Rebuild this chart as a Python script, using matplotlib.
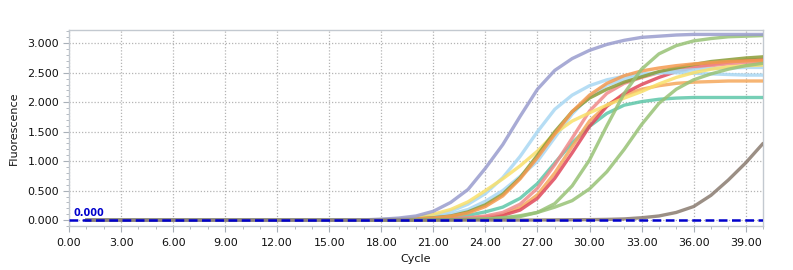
import numpy as np
import matplotlib
matplotlib.use("Agg")
import matplotlib.pyplot as plt
from matplotlib.ticker import MultipleLocator, FormatStrFormatter

cycles = list(range(1, 41))
lead_zeros = [0.0] * 14  # cycles 1..14 (flat baseline)

# values for cycles 15..40
purple = [0, 0.002, 0.005, 0.015, 0.035, 0.07, 0.15, 0.30, 0.52, 0.88, 1.28, 1.76, 2.22, 2.54, 2.74, 2.88, 2.98, 3.05, 3.10, 3.12, 3.14, 3.15, 3.15, 3.15, 3.15, 3.15]
yellow = [0, 0, 0.005, 0.01, 0.02, 0.05, 0.10, 0.18, 0.31, 0.50, 0.70, 0.92, 1.17, 1.47, 1.68, 1.82, 1.95, 2.07, 2.18, 2.31, 2.42, 2.50, 2.56, 2.60, 2.62, 2.63]
lightblue_a = [0, 0, 0.005, 0.01, 0.02, 0.04, 0.08, 0.15, 0.27, 0.45, 0.72, 1.08, 1.50, 1.88, 2.12, 2.28, 2.38, 2.44, 2.48, 2.50, 2.50, 2.49, 2.48, 2.47, 2.46, 2.46]
lightblue_b = [0, 0, 0.003, 0.008, 0.015, 0.03, 0.055, 0.10, 0.18, 0.32, 0.50, 0.74, 1.00, 1.40, 1.80, 2.10, 2.29, 2.39, 2.45, 2.50, 2.53, 2.55, 2.57, 2.58, 2.59, 2.59]
olive = [0, 0, 0.002, 0.005, 0.01, 0.02, 0.04, 0.07, 0.14, 0.26, 0.44, 0.72, 1.10, 1.50, 1.84, 2.07, 2.22, 2.34, 2.43, 2.52, 2.58, 2.64, 2.69, 2.72, 2.75, 2.77]
orange_b = [0, 0, 0.002, 0.005, 0.01, 0.02, 0.035, 0.065, 0.12, 0.23, 0.41, 0.70, 1.06, 1.46, 1.84, 2.12, 2.32, 2.45, 2.53, 2.58, 2.62, 2.65, 2.67, 2.69, 2.70, 2.71]
teal = [0, 0, 0, 0.003, 0.007, 0.012, 0.025, 0.045, 0.08, 0.14, 0.22, 0.37, 0.62, 0.97, 1.31, 1.59, 1.81, 1.95, 2.01, 2.05, 2.07, 2.08, 2.08, 2.08, 2.08, 2.08]
pink = [0, 0, 0, 0, 0.003, 0.006, 0.012, 0.022, 0.04, 0.07, 0.13, 0.27, 0.54, 0.94, 1.39, 1.85, 2.15, 2.32, 2.42, 2.50, 2.55, 2.59, 2.62, 2.65, 2.67, 2.68]
red = [0, 0, 0, 0, 0.002, 0.004, 0.008, 0.014, 0.025, 0.045, 0.08, 0.17, 0.37, 0.71, 1.14, 1.59, 1.93, 2.15, 2.30, 2.42, 2.52, 2.59, 2.64, 2.68, 2.71, 2.72]
orange_a = [0, 0, 0, 0, 0.003, 0.005, 0.01, 0.017, 0.03, 0.055, 0.10, 0.21, 0.43, 0.80, 1.25, 1.68, 1.95, 2.12, 2.22, 2.28, 2.32, 2.34, 2.35, 2.36, 2.36, 2.36]
green_a = [0, 0, 0, 0, 0, 0.002, 0.004, 0.007, 0.012, 0.02, 0.035, 0.06, 0.13, 0.28, 0.58, 1.02, 1.60, 2.15, 2.56, 2.82, 2.96, 3.04, 3.08, 3.11, 3.12, 3.13]
green_b = [0, 0, 0, 0, 0, 0.002, 0.004, 0.007, 0.012, 0.02, 0.04, 0.075, 0.13, 0.22, 0.33, 0.53, 0.82, 1.20, 1.62, 1.98, 2.22, 2.38, 2.48, 2.56, 2.62, 2.66]
brown = [0, 0, 0, 0, 0, 0, 0, 0, 0, 0, 0, 0, 0.002, 0.004, 0.006, 0.008, 0.012, 0.02, 0.04, 0.07, 0.13, 0.23, 0.42, 0.68, 0.97, 1.30]

threshold = 0.0
x_ticks = [0, 3, 6, 9, 12, 15, 18, 21, 24, 27, 30, 33, 36, 39]
y_ticks = [0.0, 0.5, 1.0, 1.5, 2.0, 2.5, 3.0]

series = [
    (teal, "#5ec7a9"),
    (orange_a, "#f5a85c"),
    (red, "#e0485a"),
    (pink, "#f08a8a"),
    (lightblue_a, "#a9d8f3"),
    (lightblue_b, "#a9d8f3"),
    (yellow, "#f9e06a"),
    (olive, "#8a9c36"),
    (orange_b, "#f59a50"),
    (green_b, "#98c276"),
    (green_a, "#98c276"),
    (purple, "#999cce"),
    (brown, "#8a7b70"),
]

fig = plt.figure(figsize=(7.93, 2.70), dpi=100)
ax = fig.add_axes([69 / 793, 44 / 270, (763 - 69) / 793, (226 - 30) / 270])

for vals, col in series:
    ax.plot(cycles, lead_zeros + vals, color=col, lw=2.4, alpha=0.85,
            solid_capstyle="round", solid_joinstyle="round", zorder=3)

ax.axhline(threshold, color="#0000cc", lw=1.8, ls=(0, (3.5, 1.8)), zorder=5)
ax.text(0.25, threshold + 0.04, "%.3f" % threshold, color="#0000cc", fontsize=7,
        fontweight="bold", ha="left", va="bottom", zorder=6)

ax.set_xlim(0, 40)
ax.set_ylim(-0.1, 3.225)
ax.set_xticks(x_ticks)
ax.set_yticks(y_ticks)
ax.xaxis.set_minor_locator(MultipleLocator(1))
ax.yaxis.set_minor_locator(MultipleLocator(0.1))
ax.xaxis.set_major_formatter(FormatStrFormatter("%.2f"))
ax.yaxis.set_major_formatter(FormatStrFormatter("%.3f"))

ax.grid(True, which="major", color="#b4b4b4", lw=0.9, ls=(0, (1, 1.5)), zorder=1)
for sp in ax.spines.values():
    sp.set_color("#c3c9d0")
    sp.set_linewidth(1.0)

ax.tick_params(axis="both", which="major", length=4, color="#a8b0b8",
               labelsize=8, labelcolor="#111111", pad=3)
ax.tick_params(axis="both", which="minor", length=2.5, color="#a8b0b8")
ax.tick_params(axis="x", which="major", pad=5)

ax.set_xlabel("Cycle", fontsize=8, color="#111111", labelpad=4)
ax.set_ylabel("Fluorescence", fontsize=8, color="#111111", labelpad=6)

fig.savefig("out.png", dpi=100)
